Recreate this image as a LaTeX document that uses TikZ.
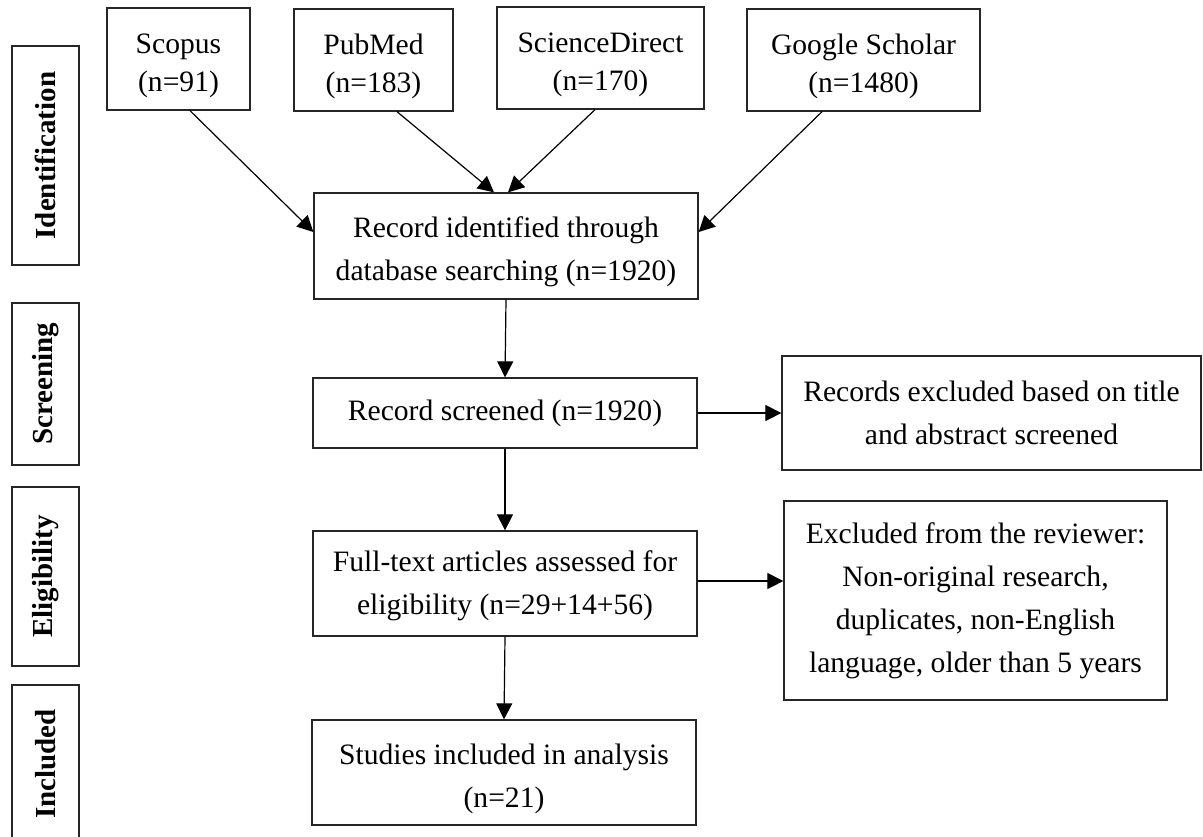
\documentclass[tikz,border=0pt]{standalone}
\usepackage{fontspec}
\setmainfont{Liberation Serif}
\usetikzlibrary{arrows.meta}
% invisible strut that lowers the text block inside a box
\newcommand\padtop[1]{\rule{0pt}{#1}}
\begin{document}
% one unit = 0.5pt, y axis pointing down
\begin{tikzpicture}[x=0.5pt,y=-0.5pt,
  box/.style={draw=black!85, line width=0.65pt, inner sep=0pt, align=center,
    font=\fontsize{14.8}{21.5}\selectfont},
  srcbox/.style={box, minimum height=51pt, font=\fontsize{14.8}{19}\selectfont},
  midbox/.style={box, minimum width=192pt},
  phase/.style={draw=black!85, line width=0.65pt, inner sep=0pt, minimum width=33.5pt,
    font=\fontsize{14.5}{16}\selectfont\bfseries},
  arr/.style={line width=0.6pt, -{Triangle[length=8pt,width=8pt]}}]
\useasboundingbox (0,0) rectangle (1203,836);
\clip (0,0) rectangle (1203,836);

% phase labels on the left
\node[phase, minimum height=109.5pt] (ident) at (45.5,155.5) {\rotatebox{90}{Identification}};
\node[phase, minimum height=81pt]    (scr)   at (45.5,384)   {\rotatebox{90}{Screening}};
\node[phase, minimum height=89.5pt]  (elig)  at (45.5,576.5) {\rotatebox{90}{Eligibility}};
\node[phase, minimum height=79pt]    (incl)  at (45.5,764)   {\rotatebox{90}{Included}};

% databases
\node[srcbox, minimum width=71.5pt]  (scopus) at (178.5,59) {\padtop{17pt}Scopus\\(n=91)};
\node[srcbox, minimum width=79.5pt]  (pubmed) at (373.5,60) {\padtop{17pt}PubMed\\(n=183)};
\node[srcbox, minimum width=103.5pt] (sd)     at (600.5,58) {\padtop{17pt}ScienceDirect\\(n=170)};
\node[srcbox, minimum width=116.5pt] (gs)     at (863.5,60) {\padtop{17pt}Google Scholar\\(n=1480)};

% main flow
\node[midbox, minimum height=53pt]   (record)   at (506,246)
  {\padtop{15.8pt}Record identified through\\database searching (n=1920)};
\node[midbox, minimum height=35pt]   (screened) at (505,413)   {Record screened (n=1920)};
\node[midbox, minimum height=52.5pt] (fulltext) at (505,583.5)
  {\padtop{12.3pt}Full-text articles assessed for\\eligibility (n=29+14+56)};
\node[midbox, minimum height=52.5pt] (studies)  at (504,772.5)
  {\padtop{17pt}Studies included in analysis\\(n=21)};

% exclusions
\node[box, minimum width=209.5pt, minimum height=57pt]   (excl1) at (991.5,413)
  {Records excluded based on title\\and abstract screened};
\node[box, minimum width=191.5pt, minimum height=99.5pt] (excl2) at (975.5,600.5)
  {Excluded from the reviewer:\\Non-original research,\\duplicates, non-English\\language, older than 5 years};

% connectors
\draw[arr] ([xshift=5.75pt]scopus.south)   -- ([yshift=7pt]record.west);
\draw[arr] ([xshift=11.75pt]pubmed.south)  -- ([xshift=-6pt]record.north);
\draw[arr] ([xshift=-2.75pt]sd.south)      -- ([xshift=1pt]record.north);
\draw[arr] ([xshift=-20.75pt]gs.south)     -- ([yshift=7pt]record.east);
\draw[arr] (record.south) -- (screened.north);
\draw[arr] (screened.east) -- (excl1.west);
\draw[arr] (screened.south) -- (fulltext.north);
\draw[arr] ([yshift=1.25pt]fulltext.east) -- ([yshift=1.25pt]fulltext.east -| excl2.west);
\draw[arr] (fulltext.south) -- (studies.north);
\end{tikzpicture}
\end{document}
